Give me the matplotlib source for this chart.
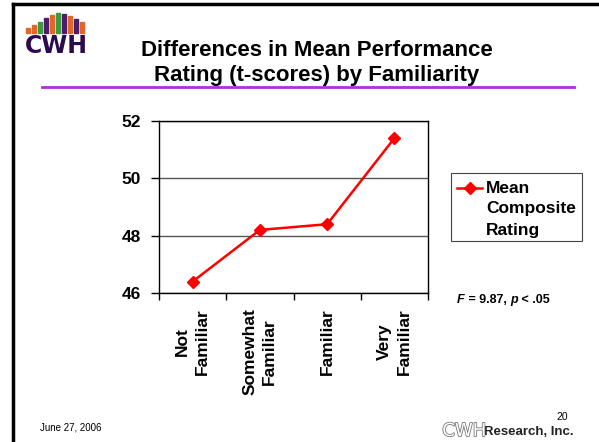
import numpy as np
import matplotlib.pyplot as plt
import matplotlib.patheffects as pe
from matplotlib.patches import Rectangle
from matplotlib.lines import Line2D

plt.rcParams['font.family'] = ['Liberation Sans', 'DejaVu Sans']

categorias = ['Not\nFamiliar', 'Somewhat\nFamiliar', 'Familiar', 'Very\nFamiliar']
valores = [46.4, 48.2, 48.4, 51.4]
y_ticks = [46, 48, 50, 52]
serie = ['Mean', 'Composite', 'Rating']

# colores del logo (barras de arriba)
logo_colores = ['#e0662a', '#e0662a', '#3f9a3f', '#4b1d6b', '#e0662a', '#3f9a3f',
                '#4b1d6b', '#e0662a', '#4b1d6b', '#e0662a']
logo_alturas = [0.25, 0.4, 0.55, 0.75, 0.9, 1.0, 0.95, 0.85, 0.7, 0.55]

W, H = 599, 442
fig = plt.figure(figsize=(W / 100, H / 100), dpi=100)

def fx(px):
    return px / W

def fy(py):
    return 1 - py / H

# borde de la diapositiva
fig.add_artist(Line2D([fx(13), fx(13)], [fy(4), fy(442)], color='black', lw=2.5))
fig.add_artist(Line2D([fx(13), fx(599)], [fy(4), fy(4)], color='black', lw=2.5))

# logo
for i, (c, h) in enumerate(zip(logo_colores, logo_alturas)):
    x0 = 26 + i * 6
    fig.add_artist(Rectangle((fx(x0), fy(33)), fx(4), 20 * h / H, color=c))
fig.text(fx(56), fy(46), 'CWH', fontsize=17, fontweight='bold', color='#2b0a4d',
         ha='center', va='center', family='DejaVu Sans')

# titulo
fig.text(fx(317), fy(51), 'Differences in Mean Performance', fontsize=16,
         fontweight='bold', ha='center', va='center')
fig.text(fx(317), fy(75), 'Rating (t-scores) by Familiarity', fontsize=16,
         fontweight='bold', ha='center', va='center')
fig.add_artist(Line2D([fx(42), fx(574)], [fy(87), fy(87)], color='#b12fd6', lw=2))

# grafico
ax = fig.add_axes([fx(159), fy(293), fx(428 - 159), (293 - 121) / H])
x = np.arange(len(categorias))
ax.plot(x, valores, color='#ff0000', lw=1.8, marker='D', markersize=6)
ax.set_xlim(-0.5, len(categorias) - 0.5)
ax.set_ylim(46, 52)
ax.set_yticks(y_ticks)
ax.set_yticklabels([str(v) for v in y_ticks], fontsize=12.5, fontweight='bold')
ax.set_xticks(np.arange(len(categorias) + 1) - 0.5)
ax.set_xticklabels([])
ax.set_xticks(x, minor=True)
ax.set_xticklabels(categorias, minor=True, rotation=90, fontsize=12.5,
                   fontweight='bold', multialignment='center', linespacing=1.4)
ax.tick_params(axis='x', which='minor', length=0, pad=11)
ax.tick_params(axis='x', which='major', length=5, width=1, direction='out')
ax.tick_params(axis='y', length=6, width=1, direction='out', pad=7)
ax.yaxis.grid(True, color='#555555', lw=1)
ax.set_axisbelow(True)
for s in ax.spines.values():
    s.set_color('black')
    s.set_linewidth(1)

# leyenda dibujada a mano (marcador alineado con la primera linea)
fig.add_artist(Rectangle((fx(451), fy(241)), fx(582 - 451), (241 - 173) / H,
                         fill=False, edgecolor='#444444', lw=0.8))
fig.add_artist(Line2D([fx(457), fx(469.5), fx(482)], [fy(188)] * 3,
                      color='#ff0000', lw=1.8, marker='D', markersize=6,
                      markevery=[1]))
for i, s in enumerate(serie):
    fig.text(fx(486), fy(188 + 21 * i), s, fontsize=12.5, fontweight='bold',
             va='center')

# estadistico F, por piezas
fig.canvas.draw()
r = fig.canvas.get_renderer()
piezas = [('F', 'italic'), (' = 9.87, ', 'normal'), ('p', 'italic'), (' < .05', 'normal')]
xx = 457
for txt, st in piezas:
    t = fig.text(fx(xx), fy(300), txt, fontsize=9, fontweight='bold', style=st,
                 va='center')
    xx += t.get_window_extent(r).width

# pie de pagina
fig.text(fx(40), fy(428), 'June 27, 2006', fontsize=7, va='center')
fig.text(fx(562), fy(417), '20', fontsize=7.5, ha='center', va='center')
fig.text(fx(574), fy(432), 'Research, Inc.', fontsize=9.5, fontweight='bold',
         ha='right', va='center', color='#222222')
t = fig.text(fx(486), fy(431), 'CWH', fontsize=13, ha='right', va='center',
             color='white', family='DejaVu Sans')
t.set_path_effects([pe.withStroke(linewidth=1.2, foreground='#777777')])

fig.savefig('out.png', dpi=100)
